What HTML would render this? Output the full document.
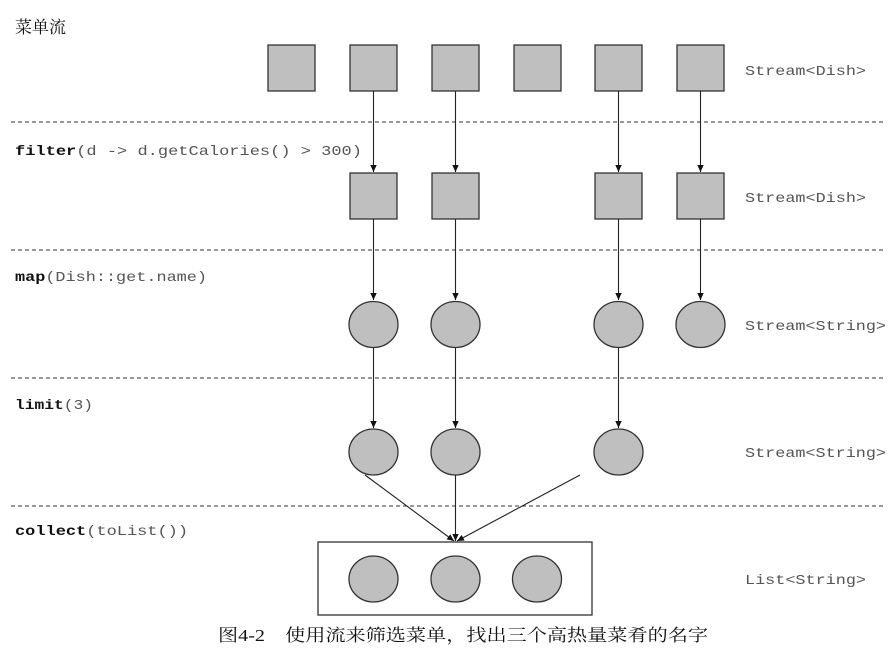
<!DOCTYPE html>
<html><head><meta charset="utf-8"><style>
html,body{margin:0;padding:0;background:#fff;width:894px;height:664px;overflow:hidden}
svg text.m{font-family:"Liberation Mono",monospace;font-size:14px;fill:#555}
svg text.m tspan.b{font-weight:bold;fill:#111}
svg text.c{font-family:"Liberation Serif","Noto Serif CJK SC",serif;fill:#111}
</style></head><body>
<svg width="894" height="664" viewBox="0 0 894 664" xmlns="http://www.w3.org/2000/svg">
<defs><marker id="a" markerWidth="8" markerHeight="8" refX="7" refY="4" orient="auto" markerUnits="userSpaceOnUse"><path d="M0,0.8 L7,4 L0,7.2 Z" fill="#111"/></marker></defs>
<text class="c" x="15" y="33" font-size="17">菜单流</text>
<g stroke="#333" stroke-width="1" stroke-dasharray="4,3">
<line x1="11" y1="122" x2="886" y2="122"/><line x1="11" y1="250" x2="886" y2="250"/>
<line x1="11" y1="378" x2="886" y2="378"/><line x1="11" y1="506" x2="886" y2="506"/>
</g>
<g fill="#bfbfbf" stroke="#333" stroke-width="1.3">
<rect x="268" y="45" width="47" height="46"/><rect x="350" y="45" width="47" height="46"/>
<rect x="432" y="45" width="47" height="46"/><rect x="514" y="45" width="47" height="46"/>
<rect x="595" y="45" width="47" height="46"/><rect x="677" y="45" width="47" height="46"/>
<rect x="350" y="173" width="47" height="46"/><rect x="432" y="173" width="47" height="46"/>
<rect x="595" y="173" width="47" height="46"/><rect x="677" y="173" width="47" height="46"/>
<ellipse cx="373.5" cy="324.5" rx="24.5" ry="23"/><ellipse cx="455.5" cy="324.5" rx="24.5" ry="23"/>
<ellipse cx="618.5" cy="324.5" rx="24.5" ry="23"/><ellipse cx="700.5" cy="324.5" rx="24.5" ry="23"/>
<ellipse cx="373.5" cy="452" rx="24.5" ry="23"/><ellipse cx="455.5" cy="452" rx="24.5" ry="23"/>
<ellipse cx="618.5" cy="452" rx="24.5" ry="23"/>
<ellipse cx="373.5" cy="579" rx="24.5" ry="23"/><ellipse cx="455.5" cy="579" rx="24.5" ry="23"/>
<ellipse cx="537" cy="579" rx="24.5" ry="23"/>
</g>
<rect x="318" y="542" width="274" height="73" fill="none" stroke="#333" stroke-width="1.3"/>
<g stroke="#222" stroke-width="1.1" marker-end="url(#a)">
<line x1="373.5" y1="91" x2="373.5" y2="172"/><line x1="455.5" y1="91" x2="455.5" y2="172"/>
<line x1="618.5" y1="91" x2="618.5" y2="172"/><line x1="700.5" y1="91" x2="700.5" y2="172"/>
<line x1="373.5" y1="219" x2="373.5" y2="300"/><line x1="455.5" y1="219" x2="455.5" y2="300"/>
<line x1="618.5" y1="219" x2="618.5" y2="300"/><line x1="700.5" y1="219" x2="700.5" y2="300"/>
<line x1="373.5" y1="348" x2="373.5" y2="428"/><line x1="455.5" y1="348" x2="455.5" y2="428"/>
<line x1="618.5" y1="348" x2="618.5" y2="428"/>
<line x1="365" y1="475" x2="454" y2="541"/><line x1="455.5" y1="475" x2="455.5" y2="541"/>
<line x1="580" y1="475" x2="457" y2="541"/>
</g>
<text class="m" x="15" y="155" textLength="347" lengthAdjust="spacingAndGlyphs"><tspan class="b">filter</tspan>(d -&gt; d.getCalories() &gt; 300)</text>
<text class="m" x="15" y="281" textLength="192" lengthAdjust="spacingAndGlyphs"><tspan class="b">map</tspan>(Dish::get.name)</text>
<text class="m" x="15" y="409" textLength="78" lengthAdjust="spacingAndGlyphs"><tspan class="b">limit</tspan>(3)</text>
<text class="m" x="15" y="535" textLength="173" lengthAdjust="spacingAndGlyphs"><tspan class="b">collect</tspan>(toList())</text>
<text class="m" x="745" y="75" textLength="121" lengthAdjust="spacingAndGlyphs">Stream&lt;Dish&gt;</text>
<text class="m" x="745" y="202" textLength="121" lengthAdjust="spacingAndGlyphs">Stream&lt;Dish&gt;</text>
<text class="m" x="745" y="330" textLength="141" lengthAdjust="spacingAndGlyphs">Stream&lt;String&gt;</text>
<text class="m" x="745" y="457" textLength="141" lengthAdjust="spacingAndGlyphs">Stream&lt;String&gt;</text>
<text class="m" x="745" y="584" textLength="121" lengthAdjust="spacingAndGlyphs">List&lt;String&gt;</text>
<text class="c" x="218" y="641" font-size="17" textLength="490" lengthAdjust="spacingAndGlyphs">图4-2　使用流来筛选菜单，找出三个高热量菜肴的名字</text>
</svg>
</body></html>
